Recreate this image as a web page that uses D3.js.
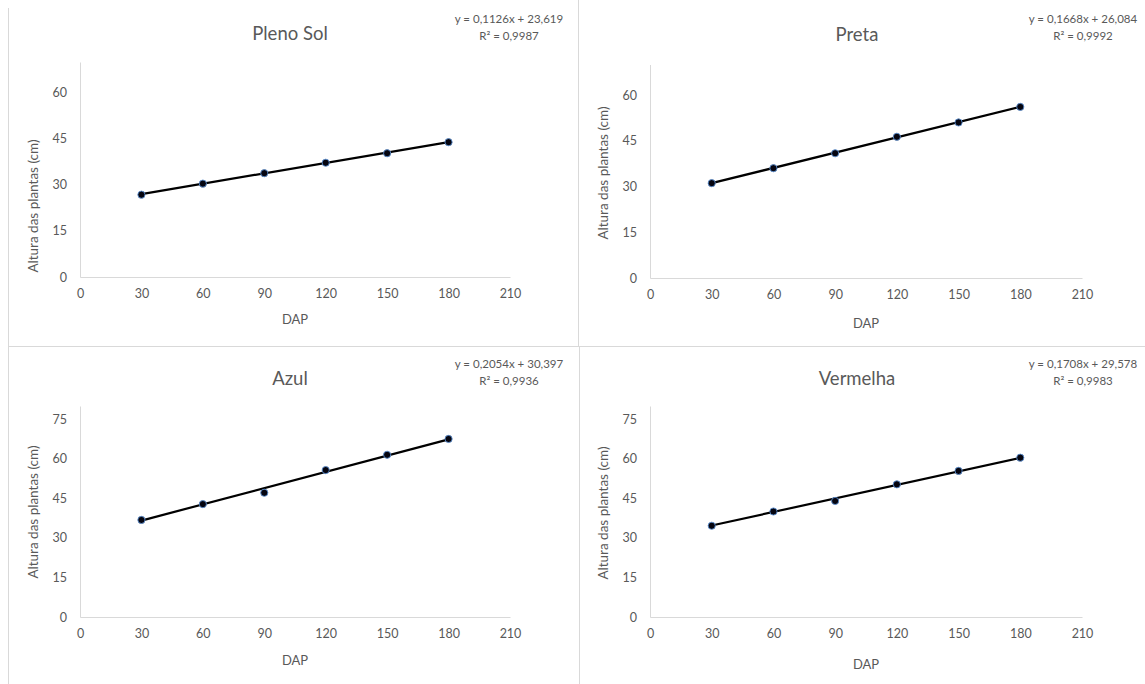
<!DOCTYPE html>
<html>
<head>
<meta charset="utf-8">
<script src="https://cdn.jsdelivr.net/npm/d3@7"></script>
<style>
  html, body { margin: 0; padding: 0; background: #fff; }
  svg { display: block; font-family: Lato, "Open Sans", sans-serif; }
</style>
</head>
<body>
<svg id="chart" width="1145" height="684"></svg>
<script>
// Diâmetro (DAP) e altura média das plantas em cada tratamento
const dap = [30, 60, 90, 120, 150, 180];
const plenoSol = [26.8, 30.4, 33.8, 37.2, 40.3, 43.9];
const preta = [31.1, 36.0, 40.9, 46.3, 51.0, 56.1];
const azul = [36.8, 42.8, 47.1, 55.7, 61.5, 67.5];
const vermelha = [34.6, 40.0, 44.0, 50.3, 55.4, 60.4];

const titles = ["Pleno Sol", "Preta", "Azul", "Vermelha"];
const slopes = [0.1126, 0.1668, 0.2054, 0.1708];
const intercepts = [23.619, 26.084, 30.397, 29.578];
const r2 = ["0,9987", "0,9992", "0,9936", "0,9983"];
const equations = ["y = 0,1126x + 23,619", "y = 0,1668x + 26,084", "y = 0,2054x + 30,397", "y = 0,1708x + 29,578"];

const xTicks = [0, 30, 60, 90, 120, 150, 180, 210];
const yTicksTop = [0, 15, 30, 45, 60];
const yTicksBottom = [0, 15, 30, 45, 60, 75];
const xMax = 210;
const yMaxTop = 70;
const yMaxBottom = 80;

const series = [plenoSol, preta, azul, vermelha];

// Panel geometry (pixel layout of each chart)
const layout = [
  { px: [80, 510], py: [277, 62], yMax: yMaxTop, yTicks: yTicksTop, cx: 290, titleY: 40, eqX: 509, eqY: 23, yLab: [33, 206], dapY: 324 },
  { px: [650, 1082], py: [278, 64.5], yMax: yMaxTop, yTicks: yTicksTop, cx: 857, titleY: 41, eqX: 1083, eqY: 23, yLab: [603, 173], dapY: 328 },
  { px: [80, 510], py: [617, 406], yMax: yMaxBottom, yTicks: yTicksBottom, cx: 290, titleY: 385, eqX: 509, eqY: 368, yLab: [33, 512], dapY: 665 },
  { px: [650, 1082], py: [617, 406], yMax: yMaxBottom, yTicks: yTicksBottom, cx: 857, titleY: 385, eqX: 1083, eqY: 368, yLab: [603, 513], dapY: 669 }
];

const svg = d3.select("#chart");
const gray = "#d9d9d9";
const textColor = "#595959";

// Frame lines separating the four charts
svg.append("line").attr("x1", 8.5).attr("x2", 8.5).attr("y1", 8).attr("y2", 684).attr("stroke", gray);
svg.append("line").attr("x1", 578.5).attr("x2", 578.5).attr("y1", 0).attr("y2", 346).attr("stroke", gray);
svg.append("line").attr("x1", 579.5).attr("x2", 579.5).attr("y1", 347).attr("y2", 684).attr("stroke", gray);
svg.append("line").attr("x1", 8).attr("x2", 1145).attr("y1", 346.5).attr("y2", 346.5).attr("stroke", gray);

series.forEach((vals, i) => {
  const L = layout[i];
  const x = d3.scaleLinear().domain([0, xMax]).range(L.px);
  const y = d3.scaleLinear().domain([0, L.yMax]).range(L.py);
  const g = svg.append("g");

  // Axes
  const xAxis = g.append("g").attr("transform", `translate(0,${L.py[0]})`)
    .call(d3.axisBottom(x).tickValues(xTicks).tickSize(0).tickPadding(12).tickFormat(d3.format("d")));
  const yAxis = g.append("g").attr("transform", `translate(${L.px[0]},0)`)
    .call(d3.axisLeft(y).tickValues(L.yTicks).tickSize(0).tickPadding(13).tickFormat(d3.format("d")));
  [xAxis, yAxis].forEach(a => {
    a.select(".domain").attr("stroke", gray).attr("stroke-width", 1);
    a.selectAll("text").attr("fill", textColor).attr("font-size", 12.5).attr("font-family", "Lato, sans-serif");
  });

  // Title
  g.append("text").attr("x", L.cx).attr("y", L.titleY).attr("text-anchor", "middle")
    .attr("fill", textColor).attr("font-size", 18.5).text(titles[i]);

  // Trendline equation and R²
  const eq = g.append("text").attr("text-anchor", "middle").attr("fill", textColor).attr("font-size", 11.5);
  eq.append("tspan").attr("x", L.eqX).attr("y", L.eqY).text(equations[i]);
  eq.append("tspan").attr("x", L.eqX).attr("y", L.eqY + 17).text("R² = " + r2[i]);

  // Axis titles
  g.append("text").attr("x", (L.px[0] + L.px[1]) / 2).attr("y", L.dapY).attr("text-anchor", "middle")
    .attr("fill", textColor).attr("font-size", 13).text("DAP");
  g.append("text").attr("transform", `translate(${L.yLab[0]},${L.yLab[1]}) rotate(-90)`)
    .attr("text-anchor", "middle").attr("dy", "0.35em").attr("fill", textColor).attr("font-size", 13.5)
    .text("Altura das plantas (cm)");

  // Linear trendline over the observed range
  const xr = d3.extent(dap);
  const trend = xr.map(d => [d, slopes[i] * d + intercepts[i]]);
  g.append("path").datum(trend)
    .attr("d", d3.line().x(d => x(d[0])).y(d => y(d[1])))
    .attr("fill", "none").attr("stroke", "#000").attr("stroke-width", 2.2);

  // Observed points
  g.selectAll("circle").data(dap.map((d, k) => [d, vals[k]])).join("circle")
    .attr("cx", d => x(d[0])).attr("cy", d => y(d[1])).attr("r", 3.6)
    .attr("fill", "#050510").attr("stroke", "#5b8fd0").attr("stroke-width", 0.9);
});
</script>
</body>
</html>
